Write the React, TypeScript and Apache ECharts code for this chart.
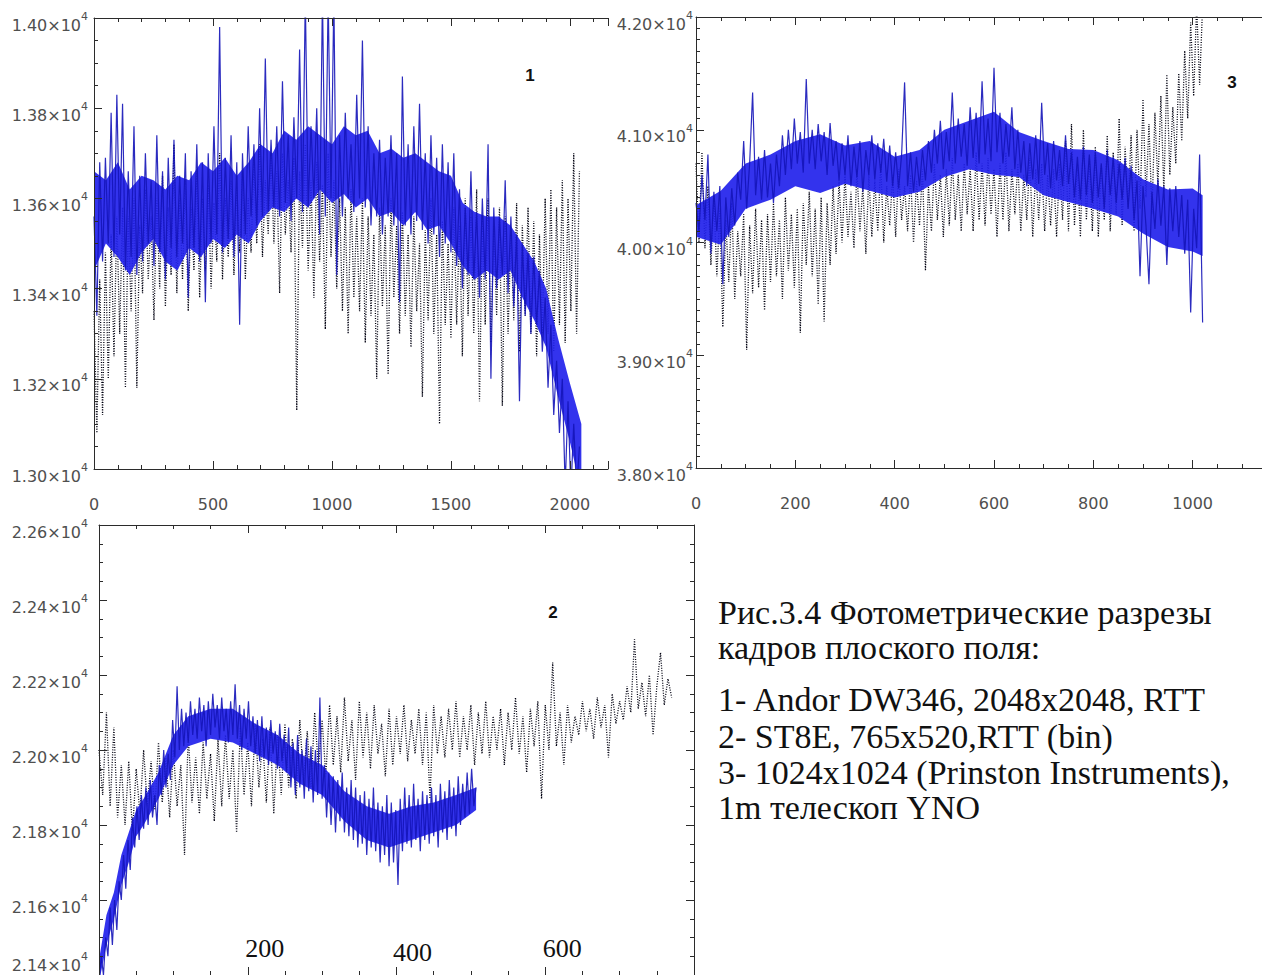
import React, { useEffect, useRef } from "react";
import * as echarts from "echarts";

// ---------- data ----------
// Panel 1: Andor DW346, 2048 px profile, sampled every 12 px
const P1_STEP = 12;
const p1Solid = [
  13560, 13340, 13680, 13460, 13690, 13500, 13790, 13470, 13830, 13520,
  13810, 13440, 13660, 13470, 13760, 13430, 13650, 13460, 13700, 13500,
  13640, 13450, 13740, 13480, 13660, 13420, 13690, 13490, 13730, 13470,
  13650, 13500, 13700, 13380, 13660, 13490, 13720, 13460, 13680, 13370,
  13700, 13500, 13760, 13520, 13980, 13480, 13690, 13510, 13740, 13470,
  13680, 13320, 13700, 13520, 13760, 13560, 13720, 13540, 13800, 13560,
  13910, 13570, 13730, 13580, 13760, 13560, 13860, 13590, 13740, 13550,
  13780, 13600, 13930, 13570, 14050, 13580, 13760, 13600, 13800, 13520,
  14050, 13560, 14050, 13600, 14050, 13430, 13740, 13560, 13790, 13600,
  13720, 13570, 13830, 13600, 13950, 13580, 13760, 13540, 13700, 13560,
  13730, 13520, 13690, 13560, 13740, 13540, 13700, 13370, 13870, 13540,
  13720, 13520, 13760, 13550, 13810, 13530, 13700, 13500, 13740, 13520,
  13690, 13470, 13720, 13500, 13680, 13480, 13700, 13450, 13620, 13400,
  13580, 13430, 13660, 13420, 13570, 13380, 13600, 13420, 13720, 13200,
  13580, 13400, 13560, 13430, 13640, 13390, 13560, 13360, 13520, 13150,
  13500, 13340, 13480, 13300, 13470, 13320, 13440, 13260, 13380, 13180,
  13320, 13120, 13240, 13080, 13200, 12960, 13150, 12950, 13100, 12950,
  13050,
];
const p1Dotted = [
  13350, 13080, 13420, 13120, 13480, 13200, 13520, 13250, 13560, 13300,
  13580, 13180, 13560, 13350, 13600, 13180, 13540, 13390, 13620, 13420,
  13560, 13330, 13600, 13400, 13650, 13360, 13580, 13430, 13720, 13390,
  13600, 13420, 13640, 13350, 13580, 13440, 13660, 13380, 13600, 13440,
  13630, 13400, 13590, 13460, 13700, 13420, 13600, 13470, 13640, 13430,
  13620, 13480, 13660, 13420, 13600, 13480, 13680, 13500, 13720, 13470,
  13640, 13520, 13700, 13500, 13660, 13390, 13700, 13520, 13640, 13480,
  13690, 13130, 13660, 13490, 13720, 13440, 13640, 13380, 13680, 13460,
  13630, 13310, 13700, 13470, 13640, 13400, 13600, 13350, 13580, 13300,
  13620, 13380, 13560, 13350, 13600, 13280, 13560, 13340, 13520, 13200,
  13580, 13360, 13540, 13210, 13600, 13380, 13540, 13300, 13570, 13340,
  13520, 13270, 13560, 13350, 13500, 13160, 13530, 13330, 13600, 13300,
  13520, 13100, 13550, 13320, 13500, 13290, 13580, 13320, 13540, 13250,
  13600, 13340, 13560, 13300, 13620, 13150, 13560, 13320, 13600, 13280,
  13540, 13340, 13580, 13140, 13560, 13300, 13520, 13330, 13590, 13260,
  13540, 13340, 13580, 13300, 13550, 13250, 13520, 13300, 13600, 13300,
  13620, 13260, 13580, 13320, 13640, 13280, 13600, 13350, 13700, 13300,
  13660,
];
// dense core of the blue profile (panel 1), edges read every 50 px
const p1BandX = [
  0, 50, 100, 150, 200, 250, 300, 350, 400, 450, 500, 550, 600, 650, 700, 750, 800, 850, 900, 950, 1000,
  1050, 1100, 1150, 1200, 1250, 1300, 1350, 1400, 1450, 1500, 1550, 1600, 1650, 1700, 1750, 1800, 1850, 1900, 1950, 2000, 2048,
];
const p1BandLow = [
  13440, 13500, 13470, 13430, 13480, 13510, 13460, 13440, 13490, 13470, 13510, 13490, 13520, 13500, 13550, 13580, 13570, 13600, 13580, 13620, 13590,
  13610, 13580, 13600, 13560, 13570, 13540, 13570, 13530, 13540, 13500, 13450, 13420, 13440, 13420, 13440, 13380, 13330, 13270, 13160, 13060, 12950,
];
const p1BandHigh = [
  13660, 13640, 13680, 13620, 13650, 13640, 13620, 13650, 13640, 13680, 13660, 13690, 13650, 13680, 13720, 13700, 13750, 13730, 13760, 13740, 13720,
  13760, 13740, 13750, 13700, 13710, 13690, 13700, 13680, 13660, 13650, 13590, 13570, 13560, 13560, 13540, 13500, 13460, 13400, 13290, 13190, 13100,
];

// Panel 3: 1024x1024 (Princeton Instruments), sampled every 6 px
const P3_STEP = 6;
const p3Solid = [
  40350, 40100, 40600, 40200, 40780, 39900, 40450, 40100, 40500, 39630,
  40400, 40050, 40480, 40150, 40620, 40380, 40900, 40300, 40700, 41330,
  40420, 40760, 40380, 40820, 40400, 40700, 40350, 40780, 40500, 40950,
  40600, 41000, 40650, 41100, 40700, 40980, 40620, 41450, 40700, 41000,
  40650, 41050, 40720, 40980, 40600, 41060, 40680, 40900, 40550, 40880,
  40600, 40950, 40500, 40850, 40580, 40900, 40450, 40820, 40600, 40950,
  40560, 40880, 40620, 40920, 40540, 40860, 40500, 40800, 40480, 40780,
  41420, 40500, 40800, 40450, 40760, 40500, 40820, 40550, 40900, 40620,
  41000, 40700, 41080, 40650, 40980, 40720, 41330, 40700, 41100, 40760,
  41050, 40680, 41200, 40750, 41150, 40700, 41430, 40780, 41100, 40720,
  41550, 40800, 41150, 40700, 41050, 40760, 41200, 40650, 41000, 40620,
  40900, 40500, 40880, 40560, 40950, 40520, 41240, 40600, 40880, 40480,
  40900, 40550, 40820, 40500, 40950, 40520, 40800, 40400, 40760, 40380,
  40850, 40420, 40780, 40350, 40800, 40400, 40700, 40300, 40820, 40420,
  40760, 40350, 40700, 40380, 40750, 40300, 40680, 40200, 40550, 39700,
  40500, 40150, 39630, 40450, 40120, 40560, 40150, 40500, 39800, 40480,
  40100, 40500, 40050, 40420, 39900, 40380, 39380, 40300, 39950, 40780,
  39290,
];
const p3Dotted = [
  40700, 40000, 40800, 39950, 40500, 39800, 40400, 39700, 40300, 39250,
  40200, 39650, 40350, 39500, 40100, 39700, 40250, 39050, 40150, 39550,
  40300, 39600, 40200, 39400, 40250, 39650, 40350, 39700, 40200, 39500,
  40400, 39750, 40250, 39600, 40300, 39200, 40350, 39800, 40450, 39700,
  40300, 39450, 40400, 39300, 40350, 39800, 40500, 39900, 40550, 40000,
  40600, 40050, 40450, 39950, 40650, 40100, 40500, 39900, 40600, 40050,
  40550, 40100, 40700, 40000, 40500, 40150, 40600, 40050, 40650, 40200,
  40500, 40100, 40600, 40000, 40550, 40150, 40650, 39750, 40500, 40100,
  40700, 40200, 40600, 40050, 40650, 40150, 40750, 40200, 40600, 40100,
  40700, 40250, 40650, 40100, 40800, 40200, 40700, 40150, 40750, 40250,
  40650, 40050, 40700, 40200, 40800, 40100, 40650, 40250, 40700, 40100,
  40600, 40200, 40750, 40050, 40650, 40200, 40700, 40100, 40600, 40150,
  40650, 40050, 40700, 40200, 40900, 40100, 41050, 40150, 40700, 40050,
  41000, 40200, 40750, 40100, 40850, 40050, 40700, 40200, 40950, 40100,
  40800, 40250, 41100, 40150, 40850, 40300, 40950, 40100, 41000, 40300,
  41270, 40400, 41050, 40250, 41150, 40500, 41300, 40450, 41490, 40600,
  41200, 40700, 41500, 40900, 41700, 41100, 41950, 41300, 42100, 41400,
  42100,
];
const p3BandX = [0, 50, 100, 150, 200, 250, 300, 350, 400, 450, 500, 550, 600, 650, 700, 750, 800, 850, 900, 950, 1000, 1020];
const p3BandLow = [40050, 39980, 40300, 40380, 40500, 40440, 40520, 40460, 40400, 40450, 40580, 40650, 40600, 40580, 40420, 40360, 40300, 40230, 40080, 39960, 39920, 39880];
const p3BandHigh = [40330, 40460, 40700, 40780, 40900, 40960, 40860, 40900, 40760, 40820, 41000, 41080, 41160, 40980, 40900, 40830, 40820, 40730, 40560, 40470, 40480, 40420];

// Panel 2: ST8E, 765x520 (bin)
const P2_SOLID_STEP = 3;
const p2Solid = [
  21380, 21450, 21400, 21500, 21450, 21580, 21480, 21600, 21520, 21650,
  21600, 21720, 21630, 21760, 21680, 21820, 21740, 21850, 21760, 21880,
  21790, 21900, 21800, 21920, 21820, 21880, 21800, 21960, 21880, 22000,
  21900, 21990, 21920, 22080, 21980, 22170, 22000, 22110, 22010, 22100,
  22020, 22130, 22040, 22110, 22030, 22140, 22050, 22120, 22010, 22130,
  22040, 22150, 22060, 22120, 22030, 22140, 22050, 22110, 22020, 22130,
  22040, 22175, 22030, 22120, 22000, 22110, 22030, 22130, 22010, 22090,
  21990, 22080, 21970, 22090, 21980, 22060, 21960, 22080, 21990, 22050,
  21950, 22070, 21970, 22040, 21940, 22060, 21900, 22020, 21880, 22040,
  21900, 22000, 21870, 22030, 21890, 22010, 21860, 22000, 21880, 22140,
  21870, 21960, 21820, 21940, 21800, 21930, 21780, 21920, 21810, 21940,
  21780, 21900, 21770, 21920, 21760, 21900, 21740, 21880, 21750, 21890,
  21720, 21870, 21740, 21900, 21730, 21860, 21700, 21850, 21720, 21880,
  21690, 21860, 21700, 21840, 21640, 21870, 21730, 21900, 21750, 21880,
  21740, 21910, 21760, 21870, 21730, 21890, 21760, 21880, 21750, 21900,
  21770, 21880, 21740, 21910, 21780, 21890, 21760, 21920, 21790, 21900,
  21770, 21930, 21800, 21910, 21820, 21940, 21830, 21950, 21850, 21900,
];
const P2_DOTTED_STEP = 5;
const p2Dotted = [
  22000, 21880, 22100, 21850, 22060, 21820, 21960, 21800, 21970, 21780,
  21950, 21830, 22000, 21850, 21970, 21840, 22020, 21860, 21980, 21820,
  22000, 21850, 21960, 21720, 22040, 21860, 21980, 21830, 22020, 21870,
  21990, 21810, 22030, 21850, 22040, 21870, 22000, 21780, 22060, 21880,
  22020, 21850, 22070, 21900, 22030, 21860, 22060, 21830, 22040, 21880,
  22070, 21900, 22030, 21870, 22080, 21920, 22050, 21900, 22100, 21950,
  22080, 21930, 22120, 21960, 22090, 21940, 22140, 21970, 22080, 21920,
  22130, 21980, 22100, 21950, 22120, 21990, 22070, 21930, 22110, 21960,
  22090, 21990, 22120, 21970, 22080, 21990, 22110, 21960, 22100, 21870,
  22120, 21990, 22090, 21980, 22110, 22000, 22130, 21980, 22090, 22000,
  22120, 21960, 22100, 21990, 22130, 21980, 22090, 22000, 22110, 21960,
  22100, 22000, 22140, 21990, 22090, 21940, 22110, 22010, 22130, 21870,
  22120, 22000, 22233, 22010, 22100, 21960, 22120, 22020, 22090, 22040,
  22130, 22050, 22110, 22030, 22140, 22060, 22120, 21980, 22150, 22070,
  22130, 22080, 22170, 22100, 22295, 22110, 22180, 22090, 22200, 22040,
  22170, 22260, 22120, 22190, 22140,
];
const p2BandX = [0, 10, 20, 30, 40, 50, 60, 80, 100, 120, 150, 180, 210, 240, 270, 300, 330, 360, 390, 420, 450, 480, 507];
const p2BandLow = [21380, 21480, 21550, 21640, 21700, 21770, 21800, 21870, 21960, 22010, 22030, 22020, 21990, 21960, 21910, 21880, 21810, 21760, 21740, 21760, 21780, 21800, 21840];
const p2BandHigh = [21440, 21560, 21620, 21720, 21780, 21840, 21870, 21940, 22040, 22090, 22110, 22110, 22070, 22040, 21990, 21960, 21890, 21850, 21830, 21850, 21860, 21880, 21900];

const captionLines = [
  "Рис.3.4 Фотометрические разрезы",
  "кадров плоского поля:",
  "1- Andor DW346, 2048x2048, RTT",
  "2- ST8E, 765x520,RTT (bin)",
  "3- 1024x1024 (Prinston Instruments),",
  "1m телескоп YNO",
];
const panelNumbers = ["1", "3", "2"];
const p2XLabels = [200, 400, 600];

// ---------- styling ----------
const AX = "#2b2b2b";
const LBL = "#4f4f4f";
const BLUE = "#1414b8";
const BAND = "#2222ec";
const DOT = "#000010";
const SANS = "DejaVu Sans";
const SERIF = "Liberation Serif";

const toPairs = (vals: number[], step: number) => vals.map((v, i) => [i * step, v]);

const yRich = {
  m: { fontFamily: SANS, fontSize: 16, color: LBL, lineHeight: 22, verticalAlign: "bottom" },
  s: { fontFamily: SANS, fontSize: 11, color: LBL, lineHeight: 10, verticalAlign: "top" },
  e: { fontSize: 10, lineHeight: 34 },
};

function axisBase(extra: any) {
  return {
    type: "value",
    z: 6,
    axisLine: { show: true, onZero: false, lineStyle: { color: AX, width: 1 } },
    axisTick: { show: true, inside: true, length: 8, lineStyle: { color: AX, width: 1 } },
    minorTick: { show: true, length: 4, lineStyle: { color: AX, width: 1 } },
    splitLine: { show: false },
    minorSplitLine: { show: false },
    ...extra,
  };
}

function xLabel(step: number, maxShown: number, margin: number) {
  return {
    show: true,
    margin,
    fontFamily: SANS,
    fontSize: 16,
    color: LBL,
    formatter: (v: number) => (v % step === 0 && v <= maxShown ? String(v) : ""),
  };
}

function yLabel(margin: number, liftMin?: number) {
  return {
    show: true,
    margin,
    formatter: (v: number) => {
      const base = `{m|${(v / 10000).toFixed(2)}×10}{s|4}`;
      return v === liftMin ? `${base}\n{e| }` : base;
    },
    rich: yRich,
    padding: [8, 0, 0, 0],
  };
}

export default function App() {
  const ref = useRef<HTMLDivElement>(null);
  useEffect(() => {
    if (!ref.current) return;
    const chart = echarts.init(ref.current, undefined, { renderer: "svg" });

    const grids = [
      { left: 94, top: 18, width: 514, height: 451, outerBoundsMode: "none", containLabel: false },
      { left: 696, top: 17, width: 596, height: 451, outerBoundsMode: "none", containLabel: false },
      { left: 99, top: 525, width: 595, height: 450, outerBoundsMode: "none", containLabel: false },
    ];

    const xAxis = [
      axisBase({ gridIndex: 0, position: "bottom", min: 0, max: 2160, interval: 500,
        minorTick: { show: true, splitNumber: 5, length: 4, lineStyle: { color: AX } },
        axisLabel: xLabel(500, 2000, 27) }),
      axisBase({ gridIndex: 0, position: "top", min: 0, max: 2160, interval: 500,
        minorTick: { show: true, splitNumber: 5, length: 4, lineStyle: { color: AX } },
        axisLabel: { show: false } }),
      axisBase({ gridIndex: 1, position: "bottom", min: 0, max: 1200, interval: 200,
        minorTick: { show: true, splitNumber: 4, length: 4, lineStyle: { color: AX } },
        axisLabel: xLabel(200, 1000, 27) }),
      axisBase({ gridIndex: 1, position: "top", min: 0, max: 1200, interval: 200,
        minorTick: { show: true, splitNumber: 4, length: 4, lineStyle: { color: AX } },
        axisLabel: { show: false } }),
      axisBase({ gridIndex: 2, position: "bottom", min: 0, max: 800, interval: 200,
        minorTick: { show: true, splitNumber: 4, length: 4, lineStyle: { color: AX } },
        axisLabel: {
          show: true,
          inside: true,
          margin: 10,
          formatter: (v: number) =>
            p2XLabels.includes(v) ? (v === 400 ? `{b|${v}}` : `{a|${v}}`) : "",
          rich: {
            a: { fontFamily: SERIF, fontSize: 26, color: "#111", lineHeight: 26, padding: [0, 0, 7, 34] },
            b: { fontFamily: SERIF, fontSize: 26, color: "#111", lineHeight: 26, padding: [0, 0, 0, 32] },
          },
        } }),
      axisBase({ gridIndex: 2, position: "top", min: 0, max: 800, interval: 200,
        minorTick: { show: true, splitNumber: 4, length: 4, lineStyle: { color: AX } },
        axisLabel: { show: false } }),
    ];

    const yAxis = [
      axisBase({ gridIndex: 0, position: "left", min: 13000, max: 14000, interval: 200,
        minorTick: { show: true, splitNumber: 4, length: 4, lineStyle: { color: AX } },
        axisLabel: yLabel(6) }),
      axisBase({ gridIndex: 1, position: "left", min: 38000, max: 42000, interval: 1000,
        minorTick: { show: true, splitNumber: 10, length: 4, lineStyle: { color: AX } },
        axisLabel: yLabel(3) }),
      axisBase({ gridIndex: 1, position: "right", min: 38000, max: 42000, interval: 1000,
        minorTick: { show: true, splitNumber: 10, length: 4, lineStyle: { color: AX } },
        axisLabel: { show: false } }),
      axisBase({ gridIndex: 2, position: "left", min: 21400, max: 22600, interval: 200,
        minorTick: { show: true, splitNumber: 4, length: 4, lineStyle: { color: AX } },
        axisLabel: yLabel(11, 21400) }),
      axisBase({ gridIndex: 2, position: "right", min: 21400, max: 22600, interval: 200,
        minorTick: { show: true, splitNumber: 4, length: 4, lineStyle: { color: AX } },
        axisLabel: { show: false } }),
    ];

    const lineSeries = (data: number[][], xi: number, yi: number, dotted: boolean) => ({
      type: "line",
      xAxisIndex: xi,
      yAxisIndex: yi,
      data,
      showSymbol: false,
      symbol: "none",
      clip: true,
      silent: true,
      z: dotted ? 2 : 4,
      lineStyle: dotted
        ? { color: DOT, width: 1.3, type: [1, 1.5] }
        : { color: BLUE, width: 1.2, opacity: 0.9 },
    });

    // dense core of each blue profile, drawn as one polygon through the axes' scales
    const bandSeries = (xs: number[], lo: number[], hi: number[], xi: number, yi: number) => ({
      type: "custom",
      xAxisIndex: xi,
      yAxisIndex: yi,
      silent: true,
      clip: true,
      z: 3,
      data: xs.map((x, i) => [x, lo[i], hi[i]]),
      encode: { x: 0, y: [1, 2] },
      renderItem: (params: any, api: any) => {
        if (params.dataIndex !== 0) return null;
        const top = xs.map((x, i) => api.coord([x, hi[i]]));
        const bot = xs.map((x, i) => api.coord([x, lo[i]])).reverse();
        return {
          type: "polygon",
          shape: { points: top.concat(bot) },
          style: { fill: BAND, opacity: 0.92 },
        };
      },
    });

    const series = [
      lineSeries(toPairs(p1Dotted, P1_STEP), 0, 0, true),
      bandSeries(p1BandX, p1BandLow, p1BandHigh, 0, 0),
      lineSeries(toPairs(p1Solid, P1_STEP), 0, 0, false),
      lineSeries(toPairs(p3Dotted, P3_STEP), 2, 1, true),
      bandSeries(p3BandX, p3BandLow, p3BandHigh, 2, 1),
      lineSeries(toPairs(p3Solid, P3_STEP), 2, 1, false),
      lineSeries(toPairs(p2Dotted, P2_DOTTED_STEP), 4, 3, true),
      bandSeries(p2BandX, p2BandLow, p2BandHigh, 4, 3),
      lineSeries(toPairs(p2Solid, P2_SOLID_STEP), 4, 3, false),
    ];

    const numberPos = [
      [530, 75],
      [1232, 82],
      [553, 612],
    ];
    const captionY = [612, 647, 699, 736, 772, 807];

    const graphic = [
      ...panelNumbers.map((t, i) => ({
        type: "text",
        x: numberPos[i][0],
        y: numberPos[i][1],
        style: {
          text: t,
          fontFamily: "Liberation Sans",
          fontWeight: "bold",
          fontSize: 17,
          fill: "#111",
          align: "center",
          verticalAlign: "middle",
        },
      })),
      ...captionLines.map((t, i) => ({
        type: "text",
        x: 718,
        y: captionY[i],
        style: {
          text: t,
          fontFamily: SERIF,
          fontSize: 34,
          fill: "#111",
          align: "left",
          verticalAlign: "middle",
        },
      })),
    ];

    chart.setOption({
      animation: false,
      backgroundColor: "#ffffff",
      grid: grids,
      xAxis,
      yAxis,
      series,
      graphic,
    });
    return () => chart.dispose();
  }, []);

  return (
    <div
      ref={ref}
      style={{ position: "fixed", left: 0, top: 0, width: 1262, height: 975, background: "#fff" }}
    />
  );
}
